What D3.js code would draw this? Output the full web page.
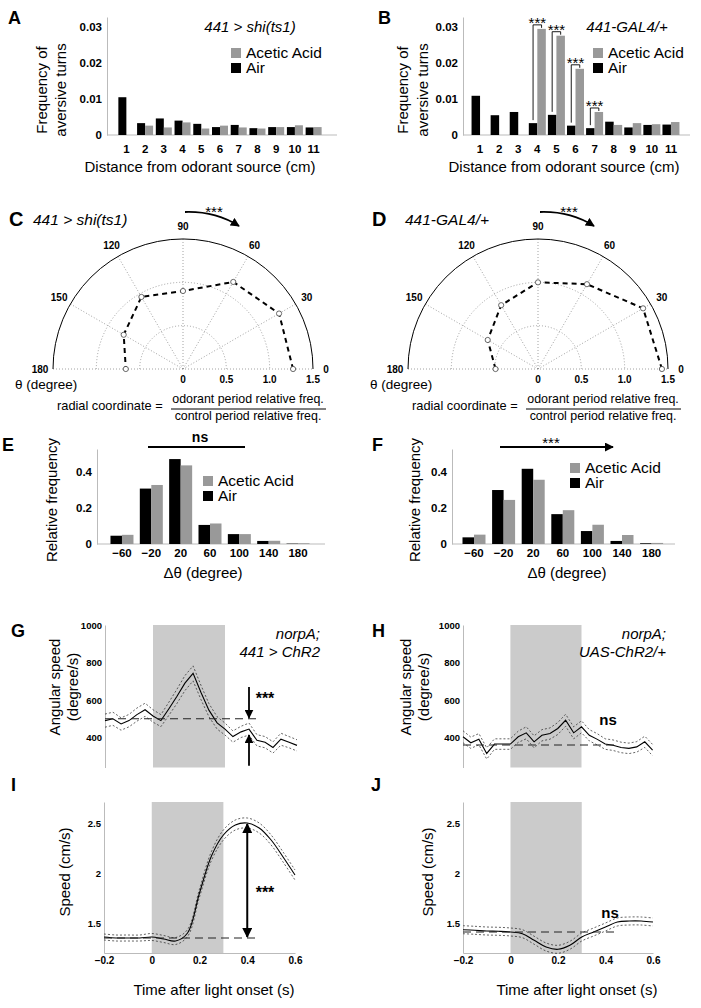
<!DOCTYPE html>
<html>
<head>
<meta charset="utf-8">
<script src="https://cdn.jsdelivr.net/npm/d3@7"></script>
<style>
body{margin:0;background:#fff}
svg{display:block}
text{font-family:"Liberation Sans",Arial,Helvetica,sans-serif}
</style>
</head>
<body>
<svg id="fig" width="701" height="1008"></svg>
<script>
// ---- data ----
var distCm=[1,2,3,4,5,6,7,8,9,10,11];
var aAir =[0.0105,0.0033,0.0046,0.0040,0.0031,0.0022,0.0028,0.0019,0.0022,0.0022,0.0021];
var aAcid=[0,0.0026,0.0021,0.0035,0.0018,0.0026,0.0021,0.0018,0.0022,0.0027,0.0022];
var bAir =[0.0109,0.0055,0.0064,0.0033,0.0056,0.0026,0.0019,0.0037,0.0021,0.0028,0.0029];
var bAcid=[0,0,0,0.0295,0.0276,0.0184,0.0064,0.0028,0.0033,0.0030,0.0036];
var bSig=[4,5,6,7];
var freqTicks=[0,0.01,0.02,0.03];

var polarAngles=[0,30,60,90,120,150,180];
var cRatio=[1.27,1.28,1.16,0.90,0.96,0.79,0.66];
var dRatio=[1.43,1.40,1.13,1.00,0.85,0.67,0.49];
var radialTicks=[0,0.5,1.0,1.5];

var dTheta=[-60,-20,20,60,100,140,180];
var eAir =[0.046,0.308,0.472,0.106,0.055,0.017,0.002];
var eAcid=[0.051,0.328,0.437,0.114,0.055,0.018,0.004];
var fAir =[0.037,0.300,0.418,0.166,0.072,0.017,0.004];
var fAcid=[0.052,0.245,0.357,0.188,0.107,0.050,0.006];
var relTicks=[0,0.2,0.4];

var angTime=[-0.2,-0.167,-0.133,-0.1,-0.067,-0.033,0,0.033,0.067,0.1,0.133,0.167,0.2,0.233,0.267,0.3,0.333,0.367,0.4,0.433,0.467,0.5,0.533,0.567,0.6];
var gMean=[490,500,472,490,522,548,515,490,555,620,690,742,640,546,478,445,405,430,445,385,375,347,391,375,358];
var gSem =[35,35,33,33,35,35,33,32,35,38,40,40,38,35,33,32,30,30,32,30,30,30,32,30,30];
var hMean=[404,372,391,315,365,365,365,404,425,377,412,421,448,492,425,457,412,390,365,359,347,342,350,377,333];
var hSem =[32,30,30,30,28,28,28,30,32,32,30,30,32,32,32,32,30,30,28,28,28,28,28,30,30];
var gBase=500, hBase=360;
var angTicks=[400,600,800,1000];

var spTime=[-0.2,-0.15,-0.1,-0.05,0,0.05,0.1,0.15,0.2,0.25,0.3,0.35,0.4,0.45,0.5,0.55,0.6];
var iMean=[1.36,1.35,1.35,1.35,1.36,1.34,1.32,1.40,1.80,2.17,2.38,2.48,2.50,2.45,2.33,2.16,1.98];
var iSem =[0.03,0.03,0.03,0.03,0.035,0.035,0.035,0.035,0.04,0.045,0.05,0.05,0.05,0.05,0.05,0.05,0.05];
var jMean=[1.433,1.427,1.42,1.417,1.41,1.393,1.327,1.26,1.237,1.277,1.36,1.41,1.46,1.51,1.52,1.52,1.51];
var jSem =[0.04,0.04,0.04,0.04,0.04,0.04,0.04,0.04,0.04,0.04,0.04,0.04,0.04,0.04,0.04,0.04,0.04];
var iBase=1.35, jBase=1.41;
var speedTicks=[1.5,2,2.5];
var timeTicks=[-0.2,0,0.2,0.4,0.6];

var GRAY='#999', AXIS='#bbb', SHADE='#cbcbcb';
var svg=d3.select('#fig');

svg.append('defs').append('marker')
  .attr('id','ah').attr('viewBox','0 0 10 10').attr('refX',9).attr('refY',5)
  .attr('markerWidth',5).attr('markerHeight',5).attr('orient','auto-start-reverse')
  .append('path').attr('d','M0,0L10,5L0,10z').attr('fill','#000');

function txt(g,x,y,s,o){
  o=o||{};
  return g.append('text').attr('x',x).attr('y',y).text(s)
    .attr('font-size',o.size||15)
    .attr('font-weight',o.bold?'bold':null)
    .attr('font-style',o.italic?'italic':null)
    .attr('text-anchor',o.anchor||'start')
    .attr('letter-spacing',o.ls||null);
}
function vtxt(g,x,y,s,size){
  return g.append('text').attr('transform','translate('+x+','+y+') rotate(-90)')
    .attr('text-anchor','middle').attr('dy','0.35em').attr('font-size',size||15).text(s);
}
function styleAxis(a,size){
  a.attr('font-family',null);
  a.select('.domain').attr('stroke',AXIS);
  a.selectAll('.tick line').attr('stroke',AXIS);
  a.selectAll('text').attr('font-size',size).attr('font-weight','bold');
}

function barPanel(p){
  var g=svg.append('g');
  var x=d3.scaleBand().domain(p.cats).range(p.xr);
  var y=d3.scaleLinear().domain(p.yd).range([p.y0,p.yTop]);
  var bw=x.bandwidth(), w=p.w;
  g.append('line').attr('x1',p.ax).attr('x2',p.axEnd).attr('y1',p.y0).attr('y2',p.y0).attr('stroke',AXIS);
  var ya=g.append('g').attr('transform','translate('+p.ax+',0)')
    .call(d3.axisLeft(y).tickValues(p.yticks).tickFormat(d3.format('')).tickSize(0).tickPadding(5).tickSizeOuter(0));
  styleAxis(ya,p.tick);
  var xa=g.append('g').attr('transform','translate(0,'+p.y0+')')
    .call(d3.axisBottom(x).tickFormat(d3.format('')).tickSize(0).tickPadding(p.xpad));
  styleAxis(xa,p.tick);
  xa.select('.domain').remove();
  g.selectAll('rect.air').data(p.air).join('rect').attr('class','air')
    .attr('x',function(d,i){return x(p.cats[i])+bw/2-w;}).attr('width',w)
    .attr('y',function(d){return y(d);}).attr('height',function(d){return p.y0-y(d);})
    .attr('fill','#000');
  g.selectAll('rect.acid').data(p.acid).join('rect').attr('class','acid')
    .attr('x',function(d,i){return x(p.cats[i])+bw/2;}).attr('width',w)
    .attr('y',function(d){return y(d);}).attr('height',function(d){return p.y0-y(d);})
    .attr('fill',GRAY);
  // legend
  g.append('rect').attr('x',p.lx).attr('y',p.ly).attr('width',10).attr('height',10).attr('fill',GRAY);
  txt(g,p.lx+15,p.ly+10,'Acetic Acid',{size:15.5});
  g.append('rect').attr('x',p.lx).attr('y',p.ly+15).attr('width',10).attr('height',10).attr('fill','#000');
  txt(g,p.lx+15,p.ly+25,'Air',{size:15.5});
  return {g:g,x:x,y:y,bw:bw};
}

// ---------- A & B ----------
var A=barPanel({cats:distCm,air:aAir,acid:aAcid,xr:[117,323],ax:107,axEnd:337,y0:135,yTop:17,
  yd:[0,0.0328],yticks:freqTicks,w:8,tick:11.5,xpad:10,lx:231,ly:48});
txt(A.g,8,24,'A',{size:18,bold:true});
txt(A.g,250,32,'441 > shi(ts1)',{italic:true,anchor:'middle'});
vtxt(A.g,42,90,'Frequency of');vtxt(A.g,61,90,'aversive turns');
txt(A.g,200,172,'Distance from odorant source (cm)',{anchor:'middle'});

var B=barPanel({cats:distCm,air:bAir,acid:bAcid,xr:[470.5,680.5],ax:463,axEnd:690,y0:135,yTop:17,
  yd:[0,0.0328],yticks:freqTicks,w:8.5,tick:11.5,xpad:10,lx:593,ly:48});
txt(B.g,378,24,'B',{size:18,bold:true});
txt(B.g,627,32,'441-GAL4/+',{italic:true,anchor:'middle'});
vtxt(B.g,403,90,'Frequency of');vtxt(B.g,423,90,'aversive turns');
txt(B.g,564,172,'Distance from odorant source (cm)',{anchor:'middle'});
bSig.forEach(function(c){
  var i=distCm.indexOf(c), xc=B.x(c)+B.bw/2, xl=xc-4.25, xr=xc+4.25;
  var top=B.y(bAcid[i])-4;
  B.g.append('path').attr('d','M'+xl+','+(B.y(bAir[i])-3)+'V'+top+'H'+xr+'V'+(B.y(bAcid[i])-1))
    .attr('fill','none').attr('stroke','#000').attr('stroke-width',0.9);
  txt(B.g,xc,top+3,'***',{size:15,anchor:'middle'});
});

// ---------- C & D polar ----------
function polarPanel(cx,cy,ratios,o){
  var g=svg.append('g');
  var r=d3.scaleLinear().domain([0,1.5]).range([0,130]);
  var R=r(1.5);
  var dot={stroke:'#8a8a8a','stroke-width':0.8,'stroke-dasharray':'1,2',fill:'none'};
  function sty(s,st){for(var k in st)s.attr(k,st[k]);return s;}
  [0.5,1.0].forEach(function(v){
    var p=d3.path();p.arc(cx,cy,r(v),Math.PI,2*Math.PI);
    sty(g.append('path').attr('d',p.toString()),dot);
  });
  sty(g.append('line').attr('x1',cx-R).attr('x2',cx+R).attr('y1',cy).attr('y2',cy),dot);
  polarAngles.forEach(function(a){
    if(a===0||a===180)return;
    var t=a*Math.PI/180;
    sty(g.append('line').attr('x1',cx).attr('y1',cy).attr('x2',cx+R*Math.cos(t)).attr('y2',cy-R*Math.sin(t)),dot);
  });
  var outer=d3.path();outer.arc(cx,cy,R,Math.PI,2*Math.PI);
  g.append('path').attr('d',outer.toString()).attr('fill','none').attr('stroke','#000').attr('stroke-width',1);
  polarAngles.forEach(function(a){
    var t=a*Math.PI/180;
    txt(g,cx+143*Math.cos(t),cy-143*Math.sin(t)+3.5,String(a),{size:10,bold:true,anchor:'middle'});
  });
  radialTicks.forEach(function(v){
    txt(g,cx+r(v),cy+14,d3.format('.1f')(v).replace(/^0\.0$/,'0'),{size:10,bold:true,anchor:'middle'});
  });
  var pts=polarAngles.map(function(a,i){return [ (90-a)*Math.PI/180, r(ratios[i]) ];});
  var gg=g.append('g').attr('transform','translate('+cx+','+cy+')');
  gg.append('path').attr('d',d3.lineRadial()(pts)).attr('fill','none').attr('stroke','#000')
    .attr('stroke-width',2).attr('stroke-dasharray','5,4');
  gg.selectAll('circle').data(pts).join('circle')
    .attr('cx',function(d){return d[1]*Math.sin(d[0]);})
    .attr('cy',function(d){return -d[1]*Math.cos(d[0]);})
    .attr('r',2.6).attr('fill','#fff').attr('stroke','#444').attr('stroke-width',0.8);
  // labels
  txt(g,o.lab[0],o.lab[1],o.letter,{size:20,bold:true});
  txt(g,o.tit[0],o.tit[1],o.title,{italic:true,size:15.5});
  g.append('path').attr('d','M'+(cx+2)+','+(cy-157)+'Q'+(cx+32)+','+(cy-158)+' '+(cx+56)+','+(cy-143))
    .attr('fill','none').attr('stroke','#000').attr('stroke-width',1.8).attr('marker-end','url(#ah)');
  txt(g,cx+31,cy-152,'***',{size:15,anchor:'middle'});
  txt(g,cx-168,cy+20,'θ (degree)',{size:13.5});
  txt(g,cx-126,cy+41,'radial coordinate =',{size:12.8});
  txt(g,cx+65,cy+34,'odorant period relative freq.',{size:12.4,anchor:'middle'});
  g.append('line').attr('x1',cx-12).attr('x2',cx+143).attr('y1',cy+40).attr('y2',cy+40).attr('stroke','#000');
  txt(g,cx+65,cy+51,'control period relative freq.',{size:12.4,anchor:'middle'});
}
polarPanel(183,369,cRatio,{letter:'C',lab:[9,226],title:'441 > shi(ts1)',tit:[33,225]});
polarPanel(538,369,dRatio,{letter:'D',lab:[372,226],title:'441-GAL4/+',tit:[405,225]});

// ---------- E & F ----------
var E=barPanel({cats:dTheta,air:eAir,acid:eAcid,xr:[107.3,312.7],ax:97,axEnd:325,y0:544,yTop:449,
  yd:[0,0.528],yticks:relTicks,w:11.5,tick:11.5,xpad:5,lx:203,ly:476});
txt(E.g,2,451,'E',{size:18,bold:true});
vtxt(E.g,52,500,'Relative frequency');
txt(E.g,203,578,'Δθ (degree)',{anchor:'middle'});
E.g.append('line').attr('x1',148).attr('x2',245).attr('y1',447).attr('y2',447).attr('stroke','#000').attr('stroke-width',2);
txt(E.g,200,442,'ns',{size:14,bold:true,anchor:'middle'});

var F=barPanel({cats:dTheta,air:fAir,acid:fAcid,xr:[459.2,666.4],ax:452,axEnd:675,y0:544,yTop:449,
  yd:[0,0.528],yticks:relTicks,w:11.5,tick:11.5,xpad:5,lx:570,ly:463});
txt(F.g,372,451,'F',{size:18,bold:true});
vtxt(F.g,415,500,'Relative frequency');
txt(F.g,567,578,'Δθ (degree)',{anchor:'middle'});
F.g.append('line').attr('x1',500).attr('x2',613).attr('y1',447).attr('y2',447).attr('stroke','#000')
  .attr('stroke-width',1.8).attr('marker-end','url(#ah)');
txt(F.g,551,448,'***',{size:15,anchor:'middle'});

// ---------- G H I J ----------
function tracePanel(p){
  var g=svg.append('g');
  var x=d3.scaleLinear().domain([-0.2,0.6]).range(p.xr);
  var y=d3.scaleLinear().domain(p.yd).range([p.y0,p.yTop]);
  g.append('rect').attr('x',x(0)).attr('width',x(0.3)-x(0)).attr('y',p.yTop).attr('height',p.y0-p.yTop).attr('fill',SHADE);
  var ya=g.append('g').attr('transform','translate('+p.xr[0]+',0)')
    .call(d3.axisLeft(y).tickValues(p.yticks).tickFormat(d3.format('')).tickSize(0).tickPadding(3).tickSizeOuter(0));
  styleAxis(ya,9.5);
  if(p.xaxis){
    var xa=g.append('g').attr('transform','translate(0,'+p.y0+')')
      .call(d3.axisBottom(x).tickValues(timeTicks).tickFormat(d3.format('')).tickSize(0).tickPadding(4).tickSizeOuter(0));
    styleAxis(xa,10);
  }
  var ln=d3.line().x(function(d){return x(d[0]);}).y(function(d){return y(d[1]);}).curve(p.curve);
  var up=p.t.map(function(t,i){return [t,p.mean[i]+p.sem[i]];});
  var lo=p.t.map(function(t,i){return [t,p.mean[i]-p.sem[i]];});
  var mid=p.t.map(function(t,i){return [t,p.mean[i]];});
  [up,lo].forEach(function(d){
    g.append('path').attr('d',ln(d)).attr('fill','none').attr('stroke','#222').attr('stroke-width',0.7).attr('stroke-dasharray','2,2');
  });
  g.append('path').attr('d',ln(mid)).attr('fill','none').attr('stroke','#000').attr('stroke-width',1.1);
  g.append('line').attr('x1',x(-0.2)).attr('x2',x(0.45)).attr('y1',y(p.base)).attr('y2',y(p.base))
    .attr('stroke','#222').attr('stroke-width',1).attr('stroke-dasharray','8,5');
  return {g:g,x:x,y:y};
}

var G=tracePanel({xr:[105,297],yd:[240,1000],y0:767.5,yTop:625,yticks:angTicks,t:angTime,mean:gMean,sem:gSem,
  base:gBase,curve:d3.curveLinear,xaxis:false});
txt(G.g,11,637,'G',{size:18,bold:true});
vtxt(G.g,55,687,'Angular speed');vtxt(G.g,73,687,'(degree/s)');
txt(G.g,320,639,'norpA;',{italic:true,anchor:'end'});
txt(G.g,320,657,'441 > ChR2',{italic:true,anchor:'end'});
G.g.append('line').attr('x1',G.x(0.4)).attr('x2',G.x(0.4)).attr('y1',G.y(670)).attr('y2',G.y(gBase)-1)
  .attr('stroke','#000').attr('stroke-width',1.8).attr('marker-end','url(#ah)');
G.g.append('line').attr('x1',G.x(0.4)).attr('x2',G.x(0.4)).attr('y1',G.y(250)).attr('y2',G.y(413))
  .attr('stroke','#000').attr('stroke-width',1.8).attr('marker-end','url(#ah)');
txt(G.g,265,704,'***',{size:16,bold:true,anchor:'middle'});

var H=tracePanel({xr:[463,652.6],yd:[240,1000],y0:767.5,yTop:625,yticks:angTicks,t:angTime,mean:hMean,sem:hSem,
  base:hBase,curve:d3.curveLinear,xaxis:false});
txt(H.g,372,637,'H',{size:18,bold:true});
vtxt(H.g,406,687,'Angular speed');vtxt(H.g,424,687,'(degree/s)');
txt(H.g,666,639,'norpA;',{italic:true,anchor:'end'});
txt(H.g,666,657,'UAS-ChR2/+',{italic:true,anchor:'end'});
txt(H.g,608,725,'ns',{size:15,bold:true,anchor:'middle'});

var I=tracePanel({xr:[104,295],yd:[1.2,2.71],y0:953,yTop:802,yticks:speedTicks,t:spTime,mean:iMean,sem:iSem,
  base:iBase,curve:d3.curveCatmullRom,xaxis:true});
txt(I.g,11,791,'I',{size:18,bold:true});
vtxt(I.g,65,872,'Speed (cm/s)');
txt(I.g,214,995,'Time after light onset (s)',{anchor:'middle'});
I.g.append('line').attr('x1',I.x(0.4)).attr('x2',I.x(0.4)).attr('y1',I.y(iBase+0.01)).attr('y2',I.y(2.49))
  .attr('stroke','#000').attr('stroke-width',2).attr('marker-end','url(#ah)').attr('marker-start','url(#ah)');
txt(I.g,265,898,'***',{size:16,bold:true,anchor:'middle'});

var J=tracePanel({xr:[463,653],yd:[1.2,2.71],y0:953,yTop:802,yticks:speedTicks,t:spTime,mean:jMean,sem:jSem,
  base:jBase,curve:d3.curveCatmullRom,xaxis:true});
txt(J.g,371,791,'J',{size:18,bold:true});
vtxt(J.g,428,872,'Speed (cm/s)');
txt(J.g,577,995,'Time after light onset (s)',{anchor:'middle'});
txt(J.g,610,918,'ns',{size:15,bold:true,anchor:'middle'});
</script>
</body>
</html>
